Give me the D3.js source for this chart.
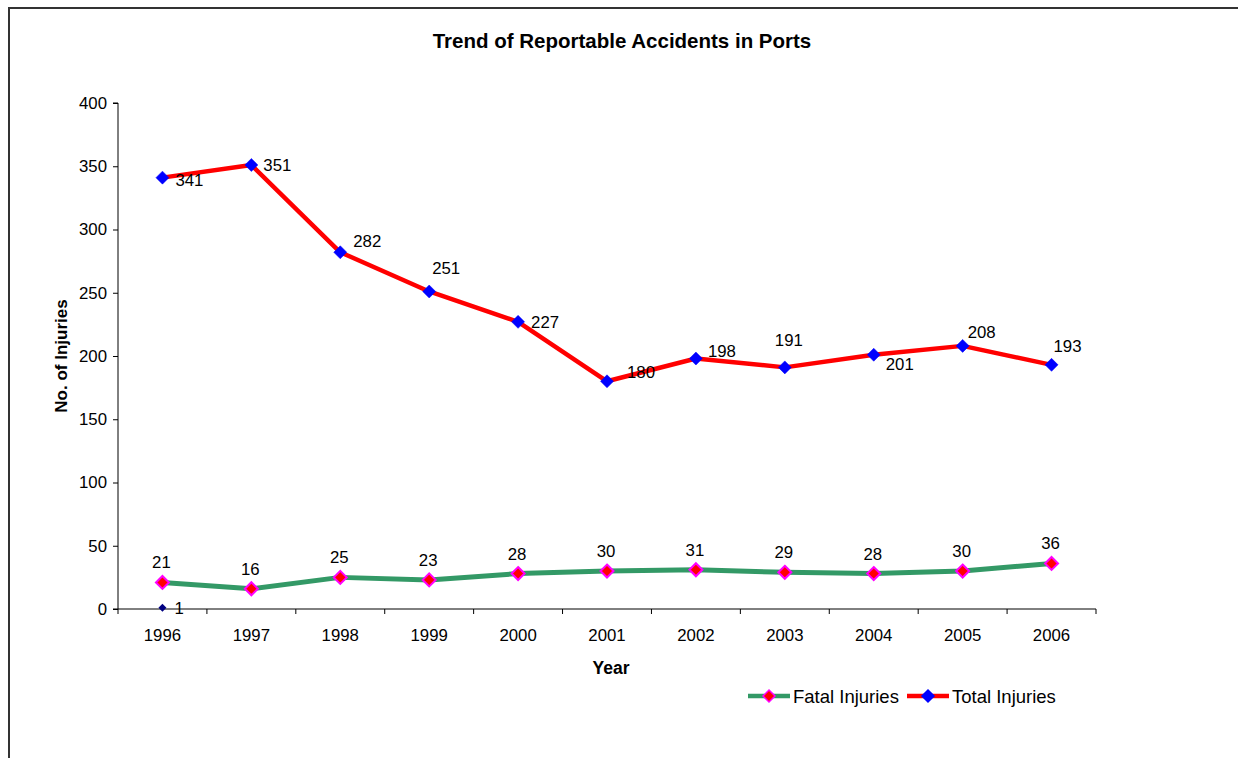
<!DOCTYPE html>
<html><head><meta charset="utf-8">
<script src="https://cdn.jsdelivr.net/npm/d3@7"></script>
<style>body{margin:0;background:#fff}svg{display:block;font-family:"Liberation Sans",Arial,sans-serif}</style>
</head><body>
<svg id="c" width="1238" height="758"></svg>
<script>
const years = ["1996","1997","1998","1999","2000","2001","2002","2003","2004","2005","2006"];
const fatal = [21,16,25,23,28,30,31,29,28,30,36];
const total = [341,351,282,251,227,180,198,191,201,208,193];
const extraYears = ["1996"];
const extraValues = [1];
const yTicks = [0,50,100,150,200,250,300,350,400];

const svg = d3.select("#c");
const x = d3.scaleBand().domain(years).range([118,1096]);
const y = d3.scaleLinear().domain([0,400]).range([609,103]);
const cx = d => x(d) + x.bandwidth()/2;
const FS = 16.8;

// border
svg.append("path").attr("d","M9,758 L9,8 L1238,8").attr("fill","none").attr("stroke","#333").attr("stroke-width",2);

svg.append("text").attr("x",622).attr("y",48).attr("text-anchor","middle")
  .attr("font-size",20.5).attr("font-weight","bold").text("Trend of Reportable Accidents in Ports");

const yAxis = svg.append("g").attr("transform","translate(118,0)")
  .call(d3.axisLeft(y).tickValues(yTicks).tickSize(5).tickPadding(6));
const xAxis = svg.append("g").attr("transform","translate(0,609)")
  .call(d3.axisBottom(x).tickSize(0).tickPadding(20));
xAxis.selectAll(".bnd").data(d3.range(years.length+1)).enter().append("line")
  .attr("x1",i=>118+i*x.step()).attr("x2",i=>118+i*x.step()).attr("y1",0).attr("y2",5).attr("stroke","#000");
[yAxis,xAxis].forEach(a=>{a.selectAll("text").attr("font-size",FS).attr("fill","#000").attr("font-family","Liberation Sans, Arial, sans-serif");a.selectAll("path,line").attr("stroke","#000");});
yAxis.select(".domain").attr("d","M-5,103H0V609H-5");
xAxis.select(".domain").attr("d","M118,0H1096");

svg.append("text").attr("x",611).attr("y",674).attr("text-anchor","middle").attr("font-size",17.5).attr("font-weight","bold").text("Year");
svg.append("text").attr("transform","translate(67,356) rotate(-90)").attr("text-anchor","middle").attr("font-size",17).attr("font-weight","bold").text("No. of Injuries");

const line = d3.line().x((d,i)=>cx(years[i])).y(d=>y(d));
svg.append("path").datum(total).attr("d",line).attr("fill","none").attr("stroke","#ff0000").attr("stroke-width",4.5).attr("stroke-linejoin","round");
svg.append("path").datum(fatal).attr("d",line).attr("fill","none").attr("stroke","#339966").attr("stroke-width",5).attr("stroke-linejoin","round");

const diamond = (s)=>`M0,${-s}L${s},0L0,${s}L${-s},0Z`;
svg.selectAll(".tm").data(total).enter().append("path").attr("d",diamond(6.5))
  .attr("transform",(d,i)=>`translate(${cx(years[i])},${y(d)})`).attr("fill","#0000ff").attr("stroke","#0000ff").attr("stroke-width",0.5);
svg.selectAll(".fm").data(fatal).enter().append("path").attr("d",diamond(6.5))
  .attr("transform",(d,i)=>`translate(${cx(years[i])},${y(d)})`).attr("fill","#ff0000").attr("stroke","#ff00ff").attr("stroke-width",2);
svg.selectAll(".em").data(extraValues).enter().append("path").attr("d",diamond(4))
  .attr("transform",(d,i)=>`translate(${cx(extraYears[i])},${y(d)})`).attr("fill","#000080");
svg.selectAll(".el").data(extraValues).enter().append("text")
  .attr("x",(d,i)=>cx(extraYears[i])+12).attr("y",(d)=>y(d)+6).attr("font-size",FS).text(d=>d);

// label offsets (placement only)
const tOff = [[13,8],[12,6],[13,-5],[3,-17],[13,6],[20,-3],[12,-2],[-10,-21],[12,15],[5,-8],[2,-13]];
svg.selectAll(".tl").data(total).enter().append("text")
  .attr("x",(d,i)=>cx(years[i])+tOff[i][0]).attr("y",(d,i)=>y(d)+tOff[i][1])
  .attr("font-size",FS).text(d=>d);
svg.selectAll(".fl").data(fatal).enter().append("text")
  .attr("x",(d,i)=>cx(years[i])-1).attr("y",d=>y(d)-14).attr("text-anchor","middle")
  .attr("font-size",FS).text(d=>d);

// legend
const lg = svg.append("g");
[[748,"#339966","#ff0000","#ff00ff","Fatal Injuries"],[907,"#ff0000","#0000ff","#0000ff","Total Injuries"]].forEach(([lx,lc,mf,ms,t])=>{
  lg.append("line").attr("x1",lx).attr("x2",lx+42).attr("y1",696).attr("y2",696).attr("stroke",lc).attr("stroke-width",4.5);
  lg.append("path").attr("d",diamond(6)).attr("transform",`translate(${lx+21},696)`).attr("fill",mf).attr("stroke",ms).attr("stroke-width",1.5);
  lg.append("text").attr("x",lx+45).attr("y",703).attr("font-size",18.5).text(t);
});
</script>
</body></html>
